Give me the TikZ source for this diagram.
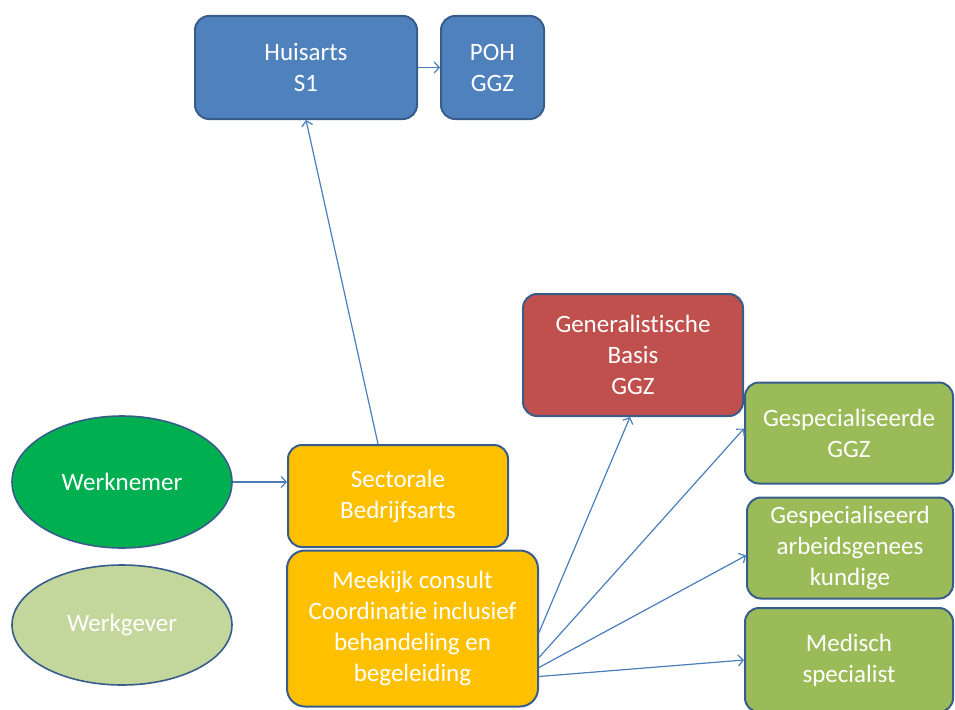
\documentclass[tikz,border=0pt]{standalone}
\usepackage{fontspec}
\setmainfont{Carlito}[Ligatures=NoCommon]
\usetikzlibrary{arrows.meta,shapes.geometric,calc}
\definecolor{bluefill}{HTML}{4F81BD}
\definecolor{edgeblue}{HTML}{385D8A}
\definecolor{redfill}{HTML}{C0504D}
\definecolor{yellowfill}{HTML}{FFC000}
\definecolor{greenbox}{HTML}{9BBB59}
\definecolor{darkgreen}{HTML}{00B050}
\definecolor{lightgreen}{HTML}{C3D69B}
\definecolor{arrowblue}{HTML}{4A7EBB}
\tikzset{
  box/.style={rectangle, rounded corners=14pt, draw=edgeblue, line width=2pt,
    text=white, align=center, inner sep=0pt,
    font=\fontsize{25}{31}\selectfont},
  oval/.style={ellipse, draw=edgeblue, line width=1.6pt, text=white,
    inner sep=0pt, font=\fontsize{25}{31}\selectfont},
  arr/.style={draw=arrowblue, line width=1.2pt,
    -{Straight Barb[length=5pt,width=11pt,line width=1.2pt]}}
}
\begin{document}
\begin{tikzpicture}[x=1pt,y=-1pt]
\useasboundingbox (0,0) rectangle (955,709);
\node[box, fill=bluefill, minimum width=222pt, minimum height=103pt] (huis) at (306,67.5) {Huisarts\\S1};
\node[box, fill=bluefill, minimum width=103pt, minimum height=103pt] (poh) at (492.5,67.5) {POH\\GGZ};
\node[box, fill=redfill, minimum width=220pt, minimum height=122pt] (gen) at (633,355) {Generalistische\\Basis\\GGZ};
\node[box, fill=greenbox, minimum width=208pt, minimum height=101pt] (ggz) at (849,433) {Gespecialiseerde\\GGZ};
\node[box, fill=greenbox, minimum width=206pt, minimum height=101pt] (arb) at (850,548) {Gespecialiseerd\\arbeidsgenees\\kundige};
\node[box, fill=greenbox, minimum width=208pt, minimum height=104pt] (med) at (849,660) {Medisch\\specialist};
\node[box, fill=yellowfill, minimum width=220pt, minimum height=102pt] (sect) at (398,496) {Sectorale\\Bedrijfsarts};
\node[box, fill=yellowfill, minimum width=251pt, minimum height=156pt, rounded corners=18pt] (meek) at (412.5,628.5) {Meekijk consult\\Coordinatie inclusief\\behandeling en\\begeleiding};
\node[oval, fill=darkgreen, minimum width=220pt, minimum height=132pt] (wn) at (122,482) {Werknemer};
\node[oval, fill=lightgreen, minimum width=220pt, minimum height=120pt] (wg) at (122,625) {Werkgever};

\draw[arr] (wn.east) -- (wn.east -| sect.west);
\draw[arr] ([xshift=-20pt]sect.north) -- (huis.south);
\draw[arr] (huis.east) -- (poh.west);
\draw[arr] ([yshift=-4pt]meek.east) -- ([xshift=-3pt]gen.south);
\draw[arr] ([yshift=-29pt]meek.east) -- ([yshift=4.5pt]ggz.west);
\draw[arr] ([yshift=-39pt]meek.east) -- ([yshift=-7.5pt]arb.west);
\draw[arr] ([yshift=-48pt]meek.east) -- ([yshift=0pt]med.west);
\end{tikzpicture}
\end{document}
